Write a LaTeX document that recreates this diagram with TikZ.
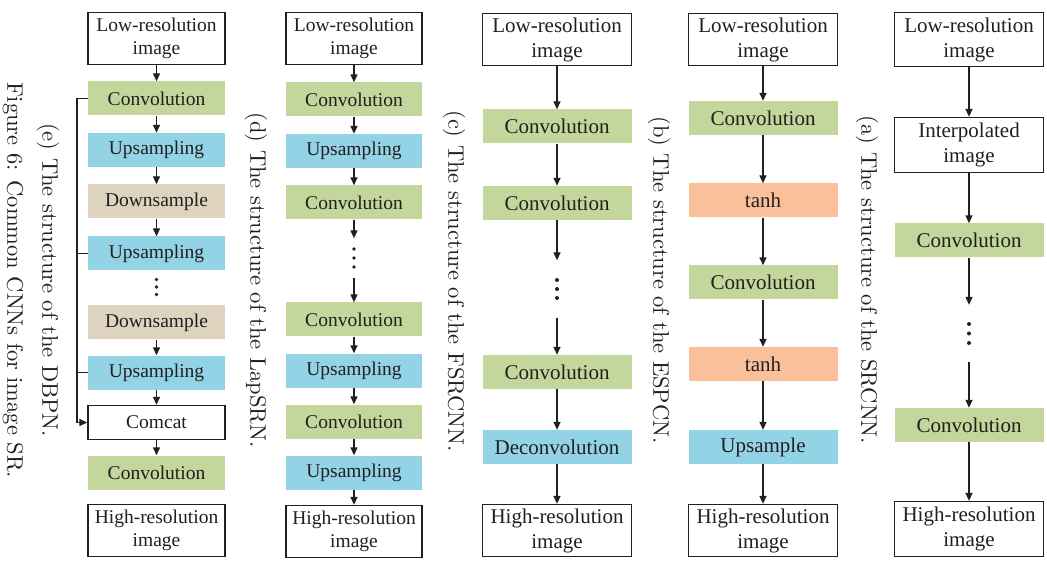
\documentclass[tikz,border=0pt]{standalone}
\usepackage{fontspec}
\newfontfamily\boxfont{Liberation Serif}
\newfontfamily\capfont{lmroman10-regular.otf}
\usetikzlibrary{arrows.meta}
\definecolor{convg}{HTML}{C3D69B}
\definecolor{upb}{HTML}{93D3E6}
\definecolor{downt}{HTML}{DDD3BE}
\definecolor{tanho}{HTML}{FAC09A}
\definecolor{ink}{HTML}{231F20}
\tikzset{
  every node/.style={text=ink},
  big/.style={font=\boxfont\fontsize{21}{25}\selectfont},
  small/.style={font=\boxfont\fontsize{19.5}{23}\selectfont},
  wbox/.style={draw=ink, line width=1.3pt, fill=white, inner sep=0pt, align=center},
  gbox/.style={fill=convg, inner sep=0pt},
  bbox/.style={fill=upb, inner sep=0pt},
  tbox/.style={fill=downt, inner sep=0pt},
  obox/.style={fill=tanho, inner sep=0pt},
  colE/.style={minimum width=137pt, small},
  colD/.style={minimum width=136pt, small},
  colABC/.style={minimum width=149pt, big},
  tall/.style={minimum height=52pt},
  flat/.style={minimum height=34pt},
  dotsbox/.style={inner sep=0pt, minimum width=4pt},
  arr/.style={draw=ink, line width=1.4pt, -{Triangle[length=8pt,width=7pt]}},
  ln/.style={draw=ink, line width=1.4pt},
  captext/.style={font=\capfont\fontsize{22.5}{27}\selectfont, inner sep=0pt, rotate=-90},
}
\begin{document}
\begin{tikzpicture}[x=1pt, y=-1pt]
\path[use as bounding box] (0,0) rectangle (1047,561);

% ---------- (e) DBPN ----------
\node[wbox, colE, tall] (e0) at (156.5,38.5) {Low-resolution\\image};
\node[gbox, colE, flat] (e1) at (156.5,98.5) {Convolution};
\node[bbox, colE, flat] (e2) at (156.5,150) {Upsampling};
\node[tbox, colE, flat] (e3) at (156.5,201.5) {Downsample};
\node[bbox, colE, flat] (e4) at (156.5,253.5) {Upsampling};
\node[dotsbox, minimum height=20pt] (ed) at (156.5,287) {};
\node[tbox, colE, flat] (e5) at (156.5,322.5) {Downsample};
\node[bbox, colE, flat] (e6) at (156.5,372.5) {Upsampling};
\node[wbox, colE, minimum height=34pt] (e7) at (156.5,422.5) {Comcat};
\node[gbox, colE, flat] (e8) at (156.5,472.5) {Convolution};
\node[wbox, colE, tall] (e9) at (156.5,530.5) {High-resolution\\image};
\foreach \k in {-1,0,1} \fill[ink] ([yshift=\k*7.5pt]ed.center) circle (1.9pt);
\draw[arr] (e0) -- (e1);
\draw[arr] (e1) -- (e2);
\draw[arr] (e2) -- (e3);
\draw[arr] (e3) -- (e4);
\draw[arr] (e5) -- (e6);
\draw[arr] (e6) -- (e7);
\draw[arr] (e7) -- (e8);
\draw[ln] (e1.west) -- ++(-11,0) coordinate (ebus);
\draw[arr] (ebus) |- (e7.west);
\draw[ln] (e4.west) -- (e4.west -| ebus);
\draw[ln] (e6.west) -- (e6.west -| ebus);

% ---------- (d) LapSRN ----------
\node[wbox, colD, tall] (d0) at (354,38.5) {Low-resolution\\image};
\node[gbox, colD, flat] (d1) at (354,99.5) {Convolution};
\node[bbox, colD, flat] (d2) at (354,151) {Upsampling};
\node[gbox, colD, flat] (d3) at (354,202.5) {Convolution};
\node[dotsbox, minimum height=39pt] (dd) at (354,258) {};
\node[gbox, colD, flat] (d4) at (354,319.5) {Convolution};
\node[bbox, colD, flat] (d5) at (354,370.5) {Upsampling};
\node[gbox, colD, flat] (d6) at (354,421.5) {Convolution};
\node[bbox, colD, flat] (d7) at (354,472.5) {Upsampling};
\node[wbox, colD, tall] (d8) at (354,531.5) {High-resolution\\image};
\foreach \k in {-1,0,1} \fill[ink] ([yshift=\k*9pt]dd.center) circle (1.9pt);
\draw[arr] (d0) -- (d1);
\draw[arr] (d1) -- (d2);
\draw[arr] (d2) -- (d3);
\draw[arr] (d3) -- (dd.north);
\draw[arr] (dd.south) -- (d4);
\draw[arr] (d4) -- (d5);
\draw[arr] (d5) -- (d6);
\draw[arr] (d6) -- (d7);
\draw[arr] (d7) -- (d8);

% ---------- (c) FSRCNN ----------
\node[wbox, colABC, tall] (c0) at (557,39.5) {Low-resolution\\image};
\node[gbox, colABC, flat] (c1) at (557,126.5) {Convolution};
\node[gbox, colABC, flat] (c2) at (557,203) {Convolution};
\node[dotsbox, minimum height=57pt] (cd) at (557,289) {};
\node[gbox, colABC, flat] (c3) at (557,372) {Convolution};
\node[bbox, colABC, flat] (c4) at (557,447) {Deconvolution};
\node[wbox, colABC, tall] (c5) at (557,530.5) {High-resolution\\image};
\foreach \k in {-1,0,1} \fill[ink] ([yshift=\k*9pt]cd.center) circle (2pt);
\draw[arr] (c0) -- (c1);
\draw[arr] (c1) -- (c2);
\draw[arr] (c2) -- (cd.north);
\draw[arr] (cd.south) -- (c3);
\draw[arr] (c3) -- (c4);
\draw[arr] (c4) -- (c5);

% ---------- (b) ESPCN ----------
\node[wbox, colABC, tall] (b0) at (763,39.5) {Low-resolution\\image};
\node[gbox, colABC, flat] (b1) at (763,118) {Convolution};
\node[obox, colABC, flat] (b2) at (763,200.5) {tanh};
\node[gbox, colABC, flat] (b3) at (763,282.5) {Convolution};
\node[obox, colABC, flat] (b4) at (763,364) {tanh};
\node[bbox, colABC, flat] (b5) at (763,447) {Upsample};
\node[wbox, colABC, tall] (b6) at (763,530.5) {High-resolution\\image};
\draw[arr] (b0) -- (b1);
\draw[arr] (b1) -- (b2);
\draw[arr] (b2) -- (b3);
\draw[arr] (b3) -- (b4);
\draw[arr] (b4) -- (b5);
\draw[arr] (b5) -- (b6);

% ---------- (a) SRCNN ----------
\node[wbox, colABC, minimum height=54pt] (a0) at (969,39.5) {Low-resolution\\image};
\node[wbox, colABC, minimum height=55pt] (a1) at (969,145) {Interpolated\\image};
\node[gbox, colABC, flat] (a2) at (969,240.5) {Convolution};
\node[dotsbox, minimum height=57pt] (ad) at (969,333.5) {};
\node[gbox, colABC, flat] (a3) at (969,425) {Convolution};
\node[wbox, colABC, minimum height=55pt] (a4) at (969,529) {High-resolution\\image};
\foreach \k in {-1,0,1} \fill[ink] ([yshift=\k*9.5pt]ad.center) circle (2pt);
\draw[arr] (a0) -- (a1);
\draw[arr] (a1) -- (a2);
\draw[arr] (a2) -- (ad.north);
\draw[arr] (ad.south) -- (a3);
\draw[arr] (a3) -- (a4);

% ---------- captions ----------
\node[captext] (capfig) at (13,280) {Figure 6: Common CNNs for image SR.};
\node[captext] (cape) at (48,280) {(e) The structure of the DBPN.};
\node[captext] (capd) at (256,280) {(d) The structure of the LapSRN.};
\node[captext] (capc) at (454,281) {(c) The structure of the FSRCNN.};
\node[captext] (capb) at (659,280) {(b) The structure of the ESPCN.};
\node[captext] (capa) at (867,280) {(a) The structure of the SRCNN.};
\end{tikzpicture}
\end{document}
